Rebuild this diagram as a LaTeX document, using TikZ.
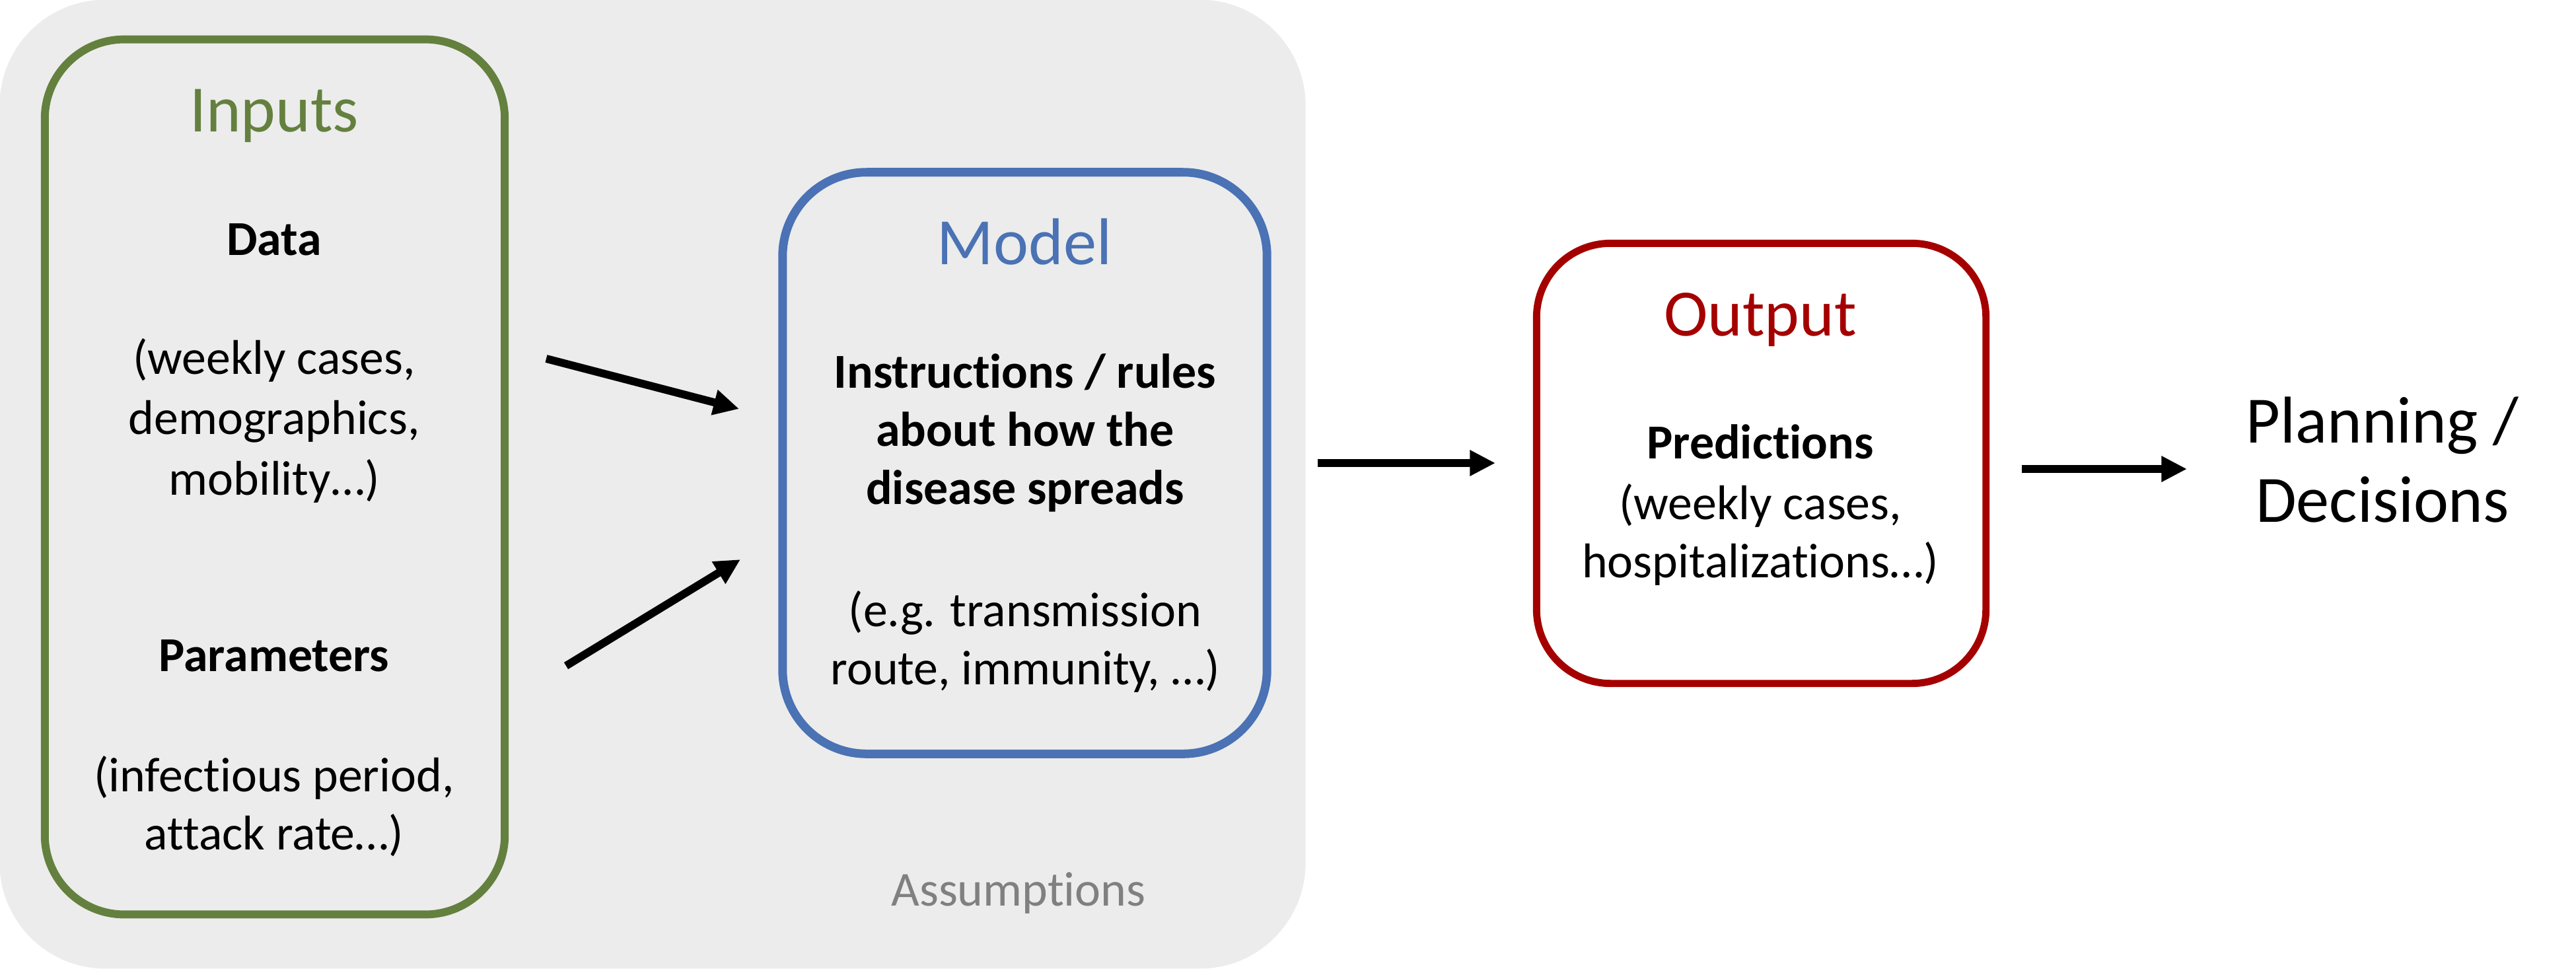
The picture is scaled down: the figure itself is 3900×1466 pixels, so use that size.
\documentclass[tikz,border=0pt]{standalone}
\usepackage{fontspec}
\setmainfont{Carlito}[Ligatures=NoCommon]
\usepackage{tikz}
\usetikzlibrary{arrows.meta}
\definecolor{inputgreen}{RGB}{100,128,62}
\definecolor{modelblue}{RGB}{74,114,180}
\definecolor{outputred}{RGB}{165,0,0}
\definecolor{assumgray}{RGB}{128,128,128}
\definecolor{bggray}{RGB}{236,236,236}
\newcommand{\bodyfont}{\fontsize{21}{25}\selectfont}
\newcommand{\titlefont}{\fontsize{28.5}{34}\selectfont}

\begin{document}
\begin{tikzpicture}[x=0.01cm, y=-0.01cm,
	box/.style={rounded corners=1.2cm, fill=none, inner sep=0pt},
	txt/.style={anchor=base, inner sep=0pt, align=center, font=\bodyfont},
	flow/.style={-{Triangle[length=11pt,width=10.5pt]}, line width=3.4pt, black}]
	\useasboundingbox (0,0) rectangle (3900,1466);
	% background and boxes
	\node (assum) [fill=bggray, rounded corners=1.6cm, inner sep=0pt, minimum width=19.76cm, minimum height=14.66cm] at (988,733) {};
	\node (inputs) [box, draw=inputgreen, line width=3.4pt, minimum width=6.96cm, minimum height=13.24cm] at (416,722) {};
	\node (model) [box, draw=modelblue, line width=3.7pt, rounded corners=1.27cm, minimum width=7.33cm, minimum height=8.80cm] at (1551.5,701) {};
	\node (output) [box, draw=outputred, line width=3.1pt, rounded corners=1.12cm, minimum width=6.80cm, minimum height=6.66cm] at (2666.5,701.5) {};
	% texts (base = last line)
	\node (t1) [txt, font=\titlefont, text=inputgreen] at (415,199) {Inputs};
	\node (t2) [txt, font=\bodyfont\bfseries] at (415,386) {Data};
	\node (t3) [txt, font=\fontsize{21}{26}\selectfont] at (415,749) {(weekly cases,\\demographics,\\mobility…)};
	\node (t4) [txt, font=\bodyfont\bfseries] at (415,1016) {Parameters};
	\node (t5) [txt] at (415,1286) {(infectious period,\\attack rate…)};
	%
	\node (t6) [txt, font=\titlefont, text=modelblue] at (1551,400) {Model};
	\node (t7) [txt, font=\bodyfont\bfseries] at (1552,763) {Instructions / rules\\about how the\\disease spreads};
	\node (t8) [txt] at (1552,1036) {(e.g. transmission\\route, immunity, …)};
	\node (t9) [txt, text=assumgray] at (1542,1371) {Assumptions};
	%
	\node (t10) [txt, font=\titlefont, text=outputred] at (2665,508) {Output};
	\node (t11) [txt, font=\bodyfont\bfseries] at (2665,694) {Predictions};
	\node (t12) [txt] at (2665,874) {(weekly cases,\\hospitalizations…)};
	\node (plan) [txt, font=\titlefont] at (3607,790) {Planning /\\Decisions};
	% arrows
	\coordinate (a1) at (827,543);
	\coordinate (a2) at (1119,619);
	\coordinate (b1) at (857,1008);
	\coordinate (b2) at (1121,847);
	\coordinate (c1) at (1995,701);
	\coordinate (c2) at (2264,701);
	\coordinate (d1) at (3061,710);
	\coordinate (d2) at (3311,710);
	\draw [flow] (a1) -- (a2);
	\draw [flow] (b1) -- (b2);
	\draw [flow] (c1) -- (c2);
	\draw [flow] (d1) -- (d2);
\end{tikzpicture}
\end{document}
